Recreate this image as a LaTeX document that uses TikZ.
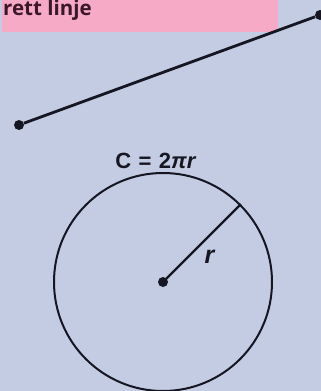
\documentclass[tikz,border=0pt]{standalone}
\usepackage{fontspec}
\setmainfont{Liberation Sans}
\newfontfamily\labelfont{Open Sans}
\definecolor{bgblue}{RGB}{195,204,227}
\definecolor{tagpink}{RGB}{247,170,198}
\definecolor{tagtext}{RGB}{58,24,42}
\definecolor{ink}{RGB}{22,22,34}
\tikzset{
  dot/.style={circle, fill=ink, inner sep=0pt, minimum size=10pt},
  formula/.style={font=\fontsize{22}{26}\selectfont\bfseries, text=ink, inner sep=0pt}
}

\begin{document}
\begin{tikzpicture}[x=1pt, y=-1pt]
  %% Background
  \fill[bgblue] (0,0) rectangle (321,391);
  \useasboundingbox (0,0) rectangle (321,391);

  %% Label box
  \fill[tagpink] (2,0) rectangle (278,32);
  \node[anchor=base west, inner sep=0pt, text=tagtext,
        font=\labelfont\fontsize{20.5}{24}\selectfont\bfseries]
    (tag) at (3,15) {rett linje};

  %% Straight line
  \node[dot] (lineA) at (19,125) {};
  \node[dot] (lineB) at (320,15) {};
  \draw[ink, line width=2.8pt] (lineA) -- (lineB);

  %% Circle
  \node[circle, draw=ink, line width=2pt, inner sep=0pt, minimum size=218pt]
    (circ) at (163,282) {};
  \node[dot] (centre) at (163,282) {};
  \draw[ink, line width=2.2pt] (centre.center) -- (circ.45);

  %% Labels
  \node[formula, anchor=base] (circum) at (156,168)
    {C\,\,=\,\,2\textit{π}\textit{r}};
  \node[formula, font=\fontsize{25}{28}\selectfont\bfseries] (rad) at (210,257) {\textit{r}};
\end{tikzpicture}
\end{document}
